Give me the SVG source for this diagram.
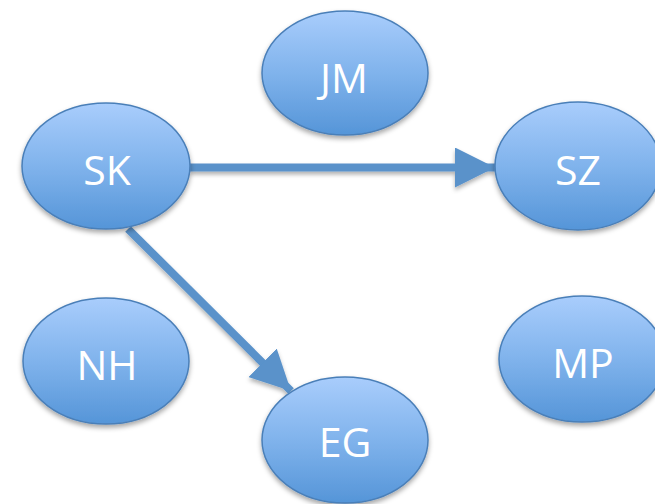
<svg xmlns="http://www.w3.org/2000/svg" width="655" height="504" viewBox="0 0 655 504">
<defs>
<linearGradient id="g" x1="0" y1="0" x2="0" y2="1">
<stop offset="0" stop-color="#a9cdfc"/>
<stop offset="0.5" stop-color="#80b3ec"/>
<stop offset="1" stop-color="#5595d8"/>
</linearGradient>
<filter id="sh" x="-20%" y="-20%" width="140%" height="150%">
<feDropShadow dx="0" dy="3" stdDeviation="2.5" flood-color="#000" flood-opacity="0.35"/>
</filter>
<filter id="shc" filterUnits="userSpaceOnUse" x="0" y="0" width="655" height="504">
<feDropShadow dx="0" dy="3" stdDeviation="2" flood-color="#000" flood-opacity="0.3"/>
</filter>
<marker id="ah" viewBox="0 0 10 10" refX="10" refY="5" markerWidth="5" markerHeight="5" markerUnits="strokeWidth" orient="auto">
<path d="M0,0 L10,5 L0,10 Z" fill="#5a92ca"/>
</marker>
</defs>
<style>
.n ellipse{fill:url(#g);stroke:#4a7fb8;stroke-width:1.5;filter:url(#sh)}
.n text{fill:#fff;font-family:"Open Sans","Liberation Sans",sans-serif;font-size:41px;text-anchor:middle}
.c{filter:url(#shc)}
.c line{stroke:#5a92ca;stroke-width:8;marker-end:url(#ah)}
</style>
<rect width="655" height="504" fill="#fff"/>
<g class="c" id="connectors">
<line x1="190" y1="167.5" x2="495" y2="167.5"/>
<line x1="128" y1="229" x2="291" y2="391"/>
</g>
<g class="n" id="JM"><ellipse cx="345" cy="73" rx="83" ry="62"/><text x="344" y="93">JM</text></g>
<g class="n" id="SK"><ellipse cx="106" cy="166" rx="84" ry="63"/><text x="107" y="185">SK</text></g>
<g class="n" id="SZ"><ellipse cx="578" cy="166" rx="83" ry="64"/><text x="578" y="185">SZ</text></g>
<g class="n" id="NH"><ellipse cx="106" cy="361" rx="83" ry="63"/><text x="107" y="380">NH</text></g>
<g class="n" id="MP"><ellipse cx="582" cy="359" rx="83" ry="63"/><text x="583" y="378">MP</text></g>
<g class="n" id="EG"><ellipse cx="345" cy="440" rx="83" ry="63"/><text x="345" y="457">EG</text></g>
</svg>
